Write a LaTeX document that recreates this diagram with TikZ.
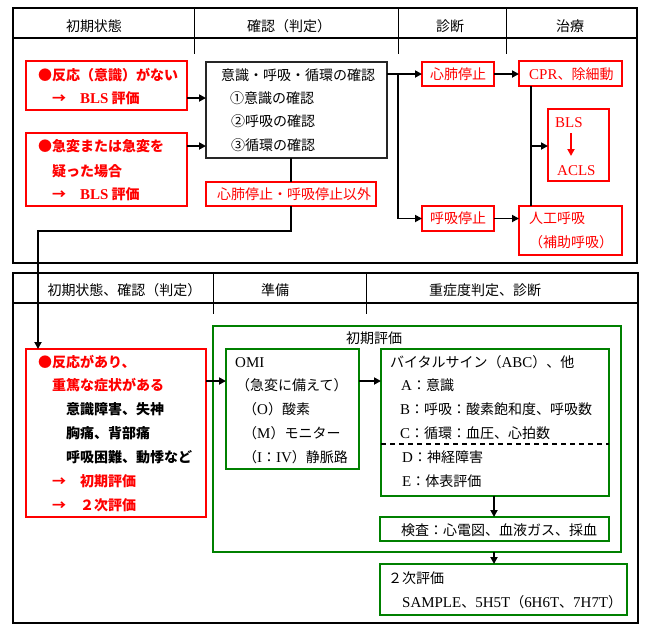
\documentclass[tikz,border=0pt]{standalone}
\usepackage{fontspec}
\setmainfont{Noto Sans CJK JP}
\newfontfamily\lt[Scale=1.07]{Liberation Serif}
\usetikzlibrary{arrows.meta}
\definecolor{grn}{RGB}{0,128,0}
\definecolor{rd}{RGB}{255,0,0}
\newcommand\bx[6]{\node[#2, minimum width=#5pt-#3pt, minimum height=#6pt-#4pt] (#1) at ({(#3+#5)/2},{(#4+#6)/2}) {};}
\begin{document}
\begin{tikzpicture}[x=1pt,y=-1pt,
  every node/.style={font=\fontsize{14pt}{16pt}\selectfont},
  txt/.style={anchor=west, inner sep=0pt, text height=12.3pt, text depth=1.7pt},
  ctr/.style={txt, anchor=center},
  rb/.style={text=rd, font=\fontsize{14pt}{16pt}\selectfont\bfseries},
  bb/.style={text=black, font=\fontsize{14pt}{16pt}\selectfont\bfseries},
  rt/.style={text=rd},
  boxbase/.style={rectangle, inner sep=0pt, outer sep=0pt},
  frame/.style={boxbase, draw=black, line width=2.4pt},
  redbox/.style={boxbase, draw=rd, line width=2pt},
  grnbox/.style={boxbase, draw=grn, line width=2pt},
  blkbox/.style={boxbase, draw=black!85, line width=1.6pt},
  conn/.style={line width=1.8pt, black},
  arr/.style={conn, -{Triangle[length=7pt,width=7pt]}},
  redarr/.style={line width=1.8pt, rd, -{Triangle[length=7pt,width=7pt]}},
  hline/.style={line width=1.8pt, black},
  divline/.style={line width=1pt, black},
  dashline/.style={line width=1.6pt, black, dash pattern=on 5pt off 4pt}
]
\useasboundingbox (0,0) rectangle (649,638);

% ---------- frames ----------
\bx{topframe}{frame}{13}{8}{637}{263}
\bx{botframe}{frame}{13}{273}{638}{623}
\draw[hline] (13,38) -- (637,38);
\draw[divline] (194,8) -- (194,54);
\draw[divline] (398,8) -- (398,54);
\draw[divline] (506,8) -- (506,54);
\draw[hline] (13,303) -- (638,303);
\draw[divline] (213,273) -- (213,314);
\draw[divline] (366,273) -- (366,314);

% headers
\node[ctr] (h1) at (94,26) {初期状態};
\node[ctr] (h2) at (289,26) {確認（判定）};
\node[ctr] (h3) at (450,26) {診断};
\node[ctr] (h4) at (570,26) {治療};
\node[ctr] (h5) at (124.5,290) {初期状態、確認（判定）};
\node[ctr] (h6) at (275,290) {準備};
\node[ctr] (h7) at (485,290) {重症度判定、診断};

% ---------- top boxes ----------
\bx{r1}{redbox}{26}{61}{187}{110}
\bx{chk}{blkbox}{206}{62}{387}{158}
\bx{r2}{redbox}{26}{133}{187}{206}
\bx{other}{redbox}{206}{182}{376}{206}
\bx{cpa}{redbox}{422}{62}{494}{86}
\bx{cpr}{redbox}{519}{61}{622}{86}
\bx{bls}{redbox}{548}{109}{609}{181}
\bx{rsa}{redbox}{422}{206}{494}{231}
\bx{ar}{redbox}{519}{206}{622}{255}

\node[txt,rb] (r1a) at (38,75) {●反応（意識）がない};
\node[txt,rb] (r1b) at (52,98) {→　{\lt BLS} 評価};
\node[txt] (c0) at (221,75) {意識・呼吸・循環の確認};
\node[txt] (c1) at (230,98) {①意識の確認};
\node[txt] (c2) at (231,121) {②呼吸の確認};
\node[txt] (c3) at (231,145) {③循環の確認};
\node[txt,rb] (r2a) at (38,146) {●急変または急変を};
\node[txt,rb] (r2b) at (52,171) {疑った場合};
\node[txt,rb] (r2c) at (52,194) {→　{\lt BLS} 評価};
\node[txt,rt] (ot) at (217,194) {心肺停止・呼吸停止以外};
\node[ctr,rt] (cpat) at (cpa) {心肺停止};
\node[txt,rt] (cprt) at (529,74) {{\lt CPR}、除細動};
\node[txt,rt] (blst) at (555,122) {\lt BLS};
\node[txt,rt] (aclst) at (557,170) {\lt ACLS};
\node[ctr,rt] (rsat) at (rsa) {呼吸停止};
\node[txt,rt] (art1) at (529,218) {人工呼吸};
\node[txt,rt] (art2) at (529,242) {（補助呼吸）};

% ---------- bottom boxes ----------
\bx{r3}{redbox}{26}{349}{206}{517}
\bx{ge}{grnbox}{213}{326}{621}{552}
\bx{omi}{grnbox}{226}{349}{359}{469}
\bx{vit}{grnbox}{381}{349}{609}{496}
\bx{ken}{grnbox}{380}{517}{609}{541}
\bx{sec}{grnbox}{380}{564}{627}{615}

\node[txt,rb] (r3a) at (38,362) {●反応があり、};
\node[txt,rb] (r3b) at (52,385) {重篤な症状がある};
\node[txt,bb] (r3c) at (66,409) {意識障害、失神};
\node[txt,bb] (r3d) at (66,433) {胸痛、背部痛};
\node[txt,bb] (r3e) at (66,457) {呼吸困難、動悸など};
\node[txt,rb] (r3f) at (52,481) {→　初期評価};
\node[txt,rb] (r3g) at (52,505) {→　２次評価};

\node[txt] (get) at (346,338) {初期評価};
\node[txt] (o1) at (235,362) {\lt OMI};
\node[txt] (o2) at (236,385) {（急変に備えて）};
\node[txt] (o3) at (243,409) {（{\lt O}）酸素};
\node[txt] (o4) at (243,433) {（{\lt M}）モニター};
\node[txt] (o5) at (243,457) {（{\lt I}：{\lt IV}）静脈路};

\node[txt] (v0) at (390,362) {バイタルサイン（{\lt ABC}）、他};
\node[txt] (v1) at (401,385) {{\lt A}：意識};
\node[txt] (v2) at (400,409) {{\lt B}：呼吸：酸素飽和度、呼吸数};
\node[txt] (v3) at (400,433) {{\lt C}：循環：血圧、心拍数};
\node[txt] (v4) at (402,457) {{\lt D}：神経障害};
\node[txt] (v5) at (402,481) {{\lt E}：体表評価};
\node[txt] (kt) at (401,530) {検査：心電図、血液ガス、採血};
\node[txt] (s1) at (388,578) {２次評価};
\node[txt] (s2) at (402,602) {{\lt SAMPLE}、{\lt 5H5T}（{\lt 6H6T}、{\lt 7H7T}）};

% ---------- connectors ----------
\coordinate (j1) at (398,74);
\coordinate (vx) at (531,146);
\coordinate (bend) at (38,231);
\coordinate (ba) at (571,133);
\coordinate (bb2) at (571,156);
\coordinate (ya) at (0,381);
\coordinate (xk) at (494,0);
\coordinate (yd) at (0,444);

\draw[arr] (r1b -| r1.east) -- (r1b -| chk.west);
\draw[arr] (r2a -| r2.east) -- (r2a -| chk.west);
\draw[arr] (chk.east |- cpa.west) -- (cpa.west);
\draw[arr] (j1) |- (rsa.west);
\draw[arr] (cpa.east) -- (cpa.east -| cpr.west);
\draw[conn] (cpr.south -| vx) -- (ar.north -| vx);
\draw[arr] (vx) -- (vx -| bls.west);
\draw[redarr] (ba) -- (bb2);
\draw[arr] (rsa.east) -- (rsa.east -| ar.west);
\draw[conn] (other.north |- chk.south) -- (other.north);
\draw[arr] (other.south) |- (bend) -- (bend |- r3.north);
\draw[arr] (ya -| r3.east) -- (ya -| omi.west);
\draw[arr] (ya -| omi.east) -- (ya -| vit.west);
\draw[arr] (vit.south -| xk) -- (ken.north -| xk);
\draw[arr] (ge.south -| xk) -- (sec.north -| xk);
\draw[dashline] (yd -| vit.west) -- (yd -| vit.east);
\end{tikzpicture}
\end{document}
